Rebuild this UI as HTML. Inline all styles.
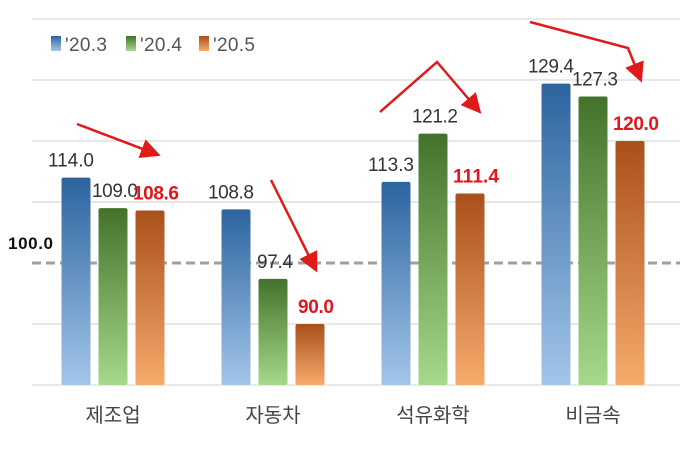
<!DOCTYPE html>
<html><head><meta charset="utf-8"><style>
body{margin:0;background:#fff}
svg text{font-family:"Liberation Sans","Noto Sans CJK KR",sans-serif}
</style></head><body>
<svg id="chart" width="690" height="460" viewBox="0 0 690 460">
<defs>
<linearGradient id="gb" x1="0" y1="0" x2="0" y2="1"><stop offset="0" stop-color="#2c649f"/><stop offset="1" stop-color="#a3c6ea"/></linearGradient>
<linearGradient id="gg" x1="0" y1="0" x2="0" y2="1"><stop offset="0" stop-color="#43722a"/><stop offset="1" stop-color="#a6d98c"/></linearGradient>
<linearGradient id="go" x1="0" y1="0" x2="0" y2="1"><stop offset="0" stop-color="#a9501a"/><stop offset="1" stop-color="#f6ab6c"/></linearGradient>
<marker id="ah" markerWidth="8" markerHeight="8" refX="6" refY="4" orient="auto"><path d="M0,0 L8,4 L0,8 z" fill="#e01a1a"/></marker>
</defs>
<g id="grid"></g>
<g id="bars"></g>
<g id="labels"></g>
<g stroke="#e01a1a" stroke-width="2.5" fill="none">
<path d="M77,124 L156,154" marker-end="url(#ah)"/>
<path d="M271,180 L315,268" marker-end="url(#ah)"/>
<path d="M380,112 L437,62 L478,110" marker-end="url(#ah)"/>
<path d="M530,22 L628,48 L640,78" marker-end="url(#ah)"/>
</g>
<g font-size="19" fill="#555">
<rect x="51" y="36" width="10" height="15" fill="url(#gb)"/><text x="65" y="51" textLength="42">'20.3</text>
<rect x="126" y="36" width="10" height="15" fill="url(#gg)"/><text x="140" y="51" textLength="42">'20.4</text>
<rect x="199" y="36" width="10" height="15" fill="url(#go)"/><text x="213" y="51" textLength="42">'20.5</text>
</g>
</svg>
<script>
const categories=["제조업","자동차","석유화학","비금속"];
const s203=[114.0,108.8,113.3,129.4];
const s204=[109.0,97.4,121.2,127.3];
const s205=[108.6,90.0,111.4,120.0];
const ticks=[80,90,100,110,120,130,140];
const NS="http://www.w3.org/2000/svg";
const y=v=>385-(v-80)*6.1;
const xc=i=>113+i*160;
const svg=document.getElementById('chart');
function mk(t,a,p){const e=document.createElementNS(NS,t);for(const k in a)e.setAttribute(k,a[k]);p.appendChild(e);return e;}
const grid=document.getElementById('grid'),bars=document.getElementById('bars'),labels=document.getElementById('labels');
ticks.forEach(t=>{
  const l=mk('line',{x1:32,x2:680,y1:y(t),y2:y(t),stroke:t===100?'#a0a0a0':'#d9d9d9','stroke-width':t===100?3:1.2},grid);
  if(t===100)l.setAttribute('stroke-dasharray','9,5');
  
  
});
const rl=mk('text',{x:8,y:y(100)-14,'font-size':17,'font-weight':'bold',fill:'#111',textLength:45},labels);
rl.textContent='100.0';


const series=[[s203,'url(#gb)','#333'],[s204,'url(#gg)','#333'],[s205,'url(#go)','#e0161c']];
categories.forEach((c,i)=>{
  series.forEach((s,j)=>{
    const v=s[0][i],cx=xc(i)+(j-1)*37;
    const r=mk('rect',{x:cx-14.5,y:y(v),width:29,height:385-y(v),fill:s[1],rx:2},bars);
    
    
    const t=mk('text',{x:cx+(j===0?-5:j===2?6:2),y:y(v)-11,'text-anchor':'middle','font-size':19,fill:s[2],'font-weight':j===2?'bold':'normal',textLength:46},labels);
    t.textContent=v.toFixed(1);
    if(v<100)t.setAttribute('textLength',36);
    
    
  });
  const ct=mk('text',{x:xc(i),y:422,'text-anchor':'middle','font-size':20,fill:'#444'},labels);
  ct.textContent=c;
  
  
});
</script>
</body></html>
